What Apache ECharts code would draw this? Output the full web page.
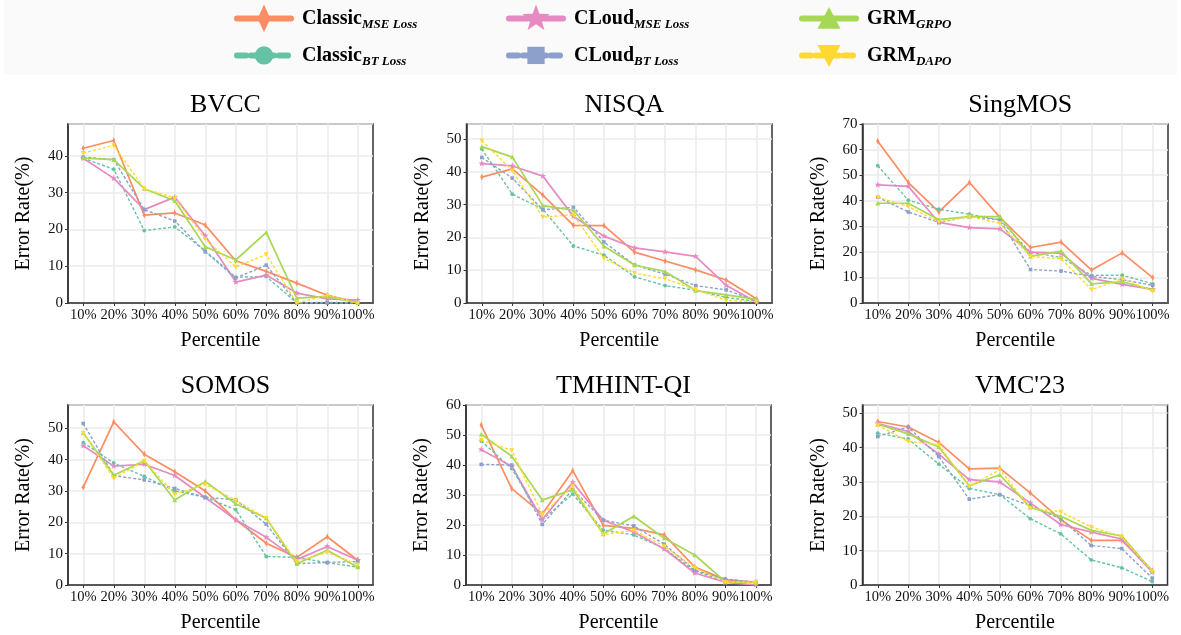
<!DOCTYPE html>
<html><head><meta charset="utf-8">
<script src="https://cdn.jsdelivr.net/npm/echarts@6/dist/echarts.min.js"></script>
<style>html,body{margin:0;padding:0;background:#fff}#c{width:1181px;height:635px}</style>
</head><body><div id="c"></div>
<script>
const categories = ['10%','20%','30%','40%','50%','60%','70%','80%','90%','100%'];
const panelTitles = ['BVCC','NISQA','SingMOS','SOMOS','TMHINT-QI',"VMC'23"];
const seriesKeys = ['Classic MSE','Classic BT','CLoud MSE','CLoud BT','GRM GRPO','GRM DAPO'];
const legendMain = ['Classic','Classic','CLoud','CLoud','GRM','GRM'];
const legendSub = ['MSE Loss','BT Loss','MSE Loss','BT Loss','GRPO','DAPO'];

// BVCC
const bvccClassicMse = [42.1,44.2,23.9,24.5,21.2,11.5,8.6,5.4,2.1,0.2];
const bvccClassicBt  = [39.4,36.4,19.7,20.7,14.2,7.0,7.2,0.0,0.2,0.0];
const bvccCloudMse   = [39.4,33.9,25.4,28.8,18.3,5.7,7.6,2.7,1.1,0.8];
const bvccCloudBt    = [39.7,39.0,25.4,22.3,13.9,6.8,10.3,0.0,0.0,0.0];
const bvccGrmGrpo    = [39.4,39.0,31.1,27.8,15.3,11.7,19.2,1.3,1.8,0.0];
const bvccGrmDapo    = [40.8,42.9,31.1,28.6,17.4,9.8,13.2,0.0,2.1,0.0];
// NISQA
const nisqaClassicMse = [38.4,40.9,32.9,23.7,23.6,15.5,12.8,10.1,7.0,1.2];
const nisqaClassicBt  = [47.0,33.2,28.6,17.4,14.6,8.0,5.3,3.9,1.7,0.5];
const nisqaCloudMse   = [42.5,41.8,38.7,26.4,20.4,16.8,15.6,14.2,5.4,0.2];
const nisqaCloudBt    = [44.4,38.1,28.4,29.2,18.6,11.6,8.8,5.3,4.0,0.6];
const nisqaGrmGrpo    = [47.7,44.5,29.7,28.3,17.3,11.6,9.6,3.8,2.5,1.1];
const nisqaGrmDapo    = [49.5,40.4,26.2,26.9,13.6,9.1,7.4,4.1,0.8,0.4];
// SingMOS
const singClassicMse = [63.3,47.1,35.6,47.1,33.5,21.7,23.8,12.9,19.6,9.9];
const singClassicBt  = [53.7,40.2,36.7,34.7,32.5,19.8,17.8,10.8,10.9,7.5];
const singCloudMse   = [46.2,45.6,31.5,29.5,29.0,19.9,19.5,9.6,7.3,5.3];
const singCloudBt    = [41.4,35.6,31.5,33.8,32.5,13.1,12.5,10.4,9.1,6.9];
const singGrmGrpo    = [39.0,39.0,32.6,33.8,33.8,18.2,20.3,7.5,8.3,5.2];
const singGrmDapo    = [41.4,37.7,31.7,33.8,31.2,18.2,17.3,5.2,9.4,4.6];
// SOMOS
const somosClassicMse = [31.2,52.0,41.7,36.1,30.0,20.8,13.3,8.8,15.4,7.9];
const somosClassicBt  = [45.4,38.9,34.6,30.0,28.0,24.0,9.1,8.8,7.1,5.7];
const somosCloudMse   = [44.4,37.9,38.5,34.9,27.9,20.8,15.2,8.1,12.3,7.9];
const somosCloudBt    = [51.5,34.9,33.5,30.8,27.9,27.2,19.4,6.8,7.2,7.5];
const somosGrmGrpo    = [48.5,35.0,39.6,27.1,33.0,25.9,21.3,6.8,11.1,5.7];
const somosGrmDapo    = [48.5,34.0,39.6,28.9,32.1,27.0,21.3,7.5,10.4,6.5];
// TMHINT-QI
const tmhClassicMse = [53.3,32.1,23.7,38.1,19.9,18.9,16.7,6.0,1.8,1.0];
const tmhClassicBt  = [48.0,38.8,21.8,30.3,18.3,16.7,12.2,4.7,1.2,0.9];
const tmhCloudMse   = [45.1,39.6,21.8,34.2,21.6,17.7,12.0,4.0,0.9,0.0];
const tmhCloudBt    = [40.2,40.0,20.2,31.8,21.6,19.7,13.6,4.9,2.0,0.9];
const tmhGrmGrpo    = [50.2,42.9,28.3,31.8,17.0,22.9,15.6,10.0,1.1,0.8];
const tmhGrmDapo    = [48.3,44.9,23.5,33.0,16.8,18.2,12.9,5.8,0.9,0.9];
// VMC'23
const vmcClassicMse = [47.6,46.0,41.5,33.8,34.0,26.8,19.0,13.0,13.0,4.2];
const vmcClassicBt  = [44.2,42.5,35.2,28.1,26.3,19.3,14.9,7.3,5.0,1.0];
const vmcCloudMse   = [47.0,44.7,38.1,30.7,30.0,23.9,17.6,15.4,13.4,3.7];
const vmcCloudBt    = [43.2,46.0,37.4,25.0,26.3,23.1,19.3,11.5,10.6,2.0];
const vmcGrmGrpo    = [46.8,44.0,40.2,28.9,32.1,22.6,20.0,15.9,14.3,4.0];
const vmcGrmDapo    = [46.5,41.8,40.8,28.7,33.6,22.4,21.3,16.9,14.0,4.0];

const panelData = [
  [bvccClassicMse,bvccClassicBt,bvccCloudMse,bvccCloudBt,bvccGrmGrpo,bvccGrmDapo],
  [nisqaClassicMse,nisqaClassicBt,nisqaCloudMse,nisqaCloudBt,nisqaGrmGrpo,nisqaGrmDapo],
  [singClassicMse,singClassicBt,singCloudMse,singCloudBt,singGrmGrpo,singGrmDapo],
  [somosClassicMse,somosClassicBt,somosCloudMse,somosCloudBt,somosGrmGrpo,somosGrmDapo],
  [tmhClassicMse,tmhClassicBt,tmhCloudMse,tmhCloudBt,tmhGrmGrpo,tmhGrmDapo],
  [vmcClassicMse,vmcClassicBt,vmcCloudMse,vmcCloudBt,vmcGrmGrpo,vmcGrmDapo]
];
const yMax = [48.7,54.6,70,57.4,60,52.4];

const FONT = '"Liberation Serif","Times New Roman",serif';
const colors = ['#fc8d62','#66c2a5','#e78ac3','#8da0cb','#a6d854','#ffd92f'];
const F = 'M0 0 M100 100 ';
const symbols = [
  'path://' + F + 'M50 2 L72 50 L50 98 L28 50 Z',
  'path://' + F + 'M50 18 A32 32 0 1 1 50 82 A32 32 0 1 1 50 18 Z',
  'path://' + F + 'M50 2 L61.8 33.8 L97.6 34.5 L69 56.2 L79.4 90.5 L50 70 L20.6 90.5 L31 56.2 L2.4 34.5 L38.2 33.8 Z',
  'path://' + F + 'M20 20 L80 20 L80 80 L20 80 Z',
  'path://' + F + 'M50 10 L90 86 L10 86 Z',
  'path://' + F + 'M50 90 L90 14 L10 14 Z'
];
const symSizes = [7,6,7,6,6,6];
const dashed = [false,true,false,true,false,true];

const gridPos = [
  {left:68, top:124, width:305, height:179},
  {left:466.5, top:124, width:305.5, height:179},
  {left:862.5, top:124, width:305.5, height:179},
  {left:68, top:405, width:305, height:180},
  {left:466, top:405, width:305, height:180},
  {left:862.5, top:405, width:305, height:180}
];

const grids = [], xAxes = [], yAxes = [], series = [], titles = [];
gridPos.forEach((g, p) => {
  grids.push(Object.assign({show:true, borderColor:'#333', borderWidth:1.5, backgroundColor:'#fff'}, g));
  titles.push({text: panelTitles[p], left: g.left + g.width/2, top: g.top - 37, textAlign:'center',
    textStyle:{fontFamily:FONT, fontSize:26, fontWeight:'normal', color:'#000'}});
  xAxes.push({type:'category', gridIndex:p, data:categories, boundaryGap:true,
    name:'Percentile', nameLocation:'middle', nameGap:28,
    nameTextStyle:{fontFamily:FONT, fontSize:20, color:'#000'},
    axisLine:{show:true, lineStyle:{color:'#333', width:1.5}},
    axisTick:{show:true, alignWithLabel:true, length:3, lineStyle:{color:'#333'}},
    axisLabel:{interval:0, margin:5, fontFamily:FONT, fontSize:14.5, color:'#111'},
    splitLine:{show:true, alignWithLabel:true, lineStyle:{color:'#ebebeb', width:1.6}}});
  const mx = yMax[p];
  yAxes.push({type:'value', gridIndex:p, min:0, max:mx, interval:10,
    name:'Error Rate(%)', nameLocation:'middle', nameGap:34,
    nameTextStyle:{fontFamily:FONT, fontSize:20, color:'#000'},
    axisLine:{show:true, lineStyle:{color:'#333', width:1.5}},
    axisTick:{show:true, length:3, lineStyle:{color:'#333'}},
    axisLabel:{margin:5, fontFamily:FONT, fontSize:15, color:'#111', showMaxLabel: (mx % 10 === 0)},
    splitLine:{show:true, lineStyle:{color:'#ebebeb', width:1.6}}});
  panelData[p].forEach((arr, s) => {
    series.push({type:'line', name:seriesKeys[s], xAxisIndex:p, yAxisIndex:p, data:arr,
      symbol:symbols[s], symbolSize:symSizes[s], showAllSymbol:true,
      itemStyle:{color:colors[s], borderWidth:0},
      lineStyle:{color:colors[s], width: dashed[s] ? 1.4 : 1.7, type: dashed[s] ? [3,2] : 'solid'},
      emphasis:{disabled:true}, animation:false, z: 2 + s});
  });
});

const legendPos = [
  {left:234, top:4}, {left:234, top:41},
  {left:506, top:4}, {left:506, top:41},
  {left:799, top:4}, {left:799, top:41}
];
const legends = seriesKeys.map((k, s) => ({
  data:[k], left:legendPos[s].left, top:legendPos[s].top, padding:0,
  itemWidth:54, itemHeight:36, selectedMode:false,
  lineStyle:{width:6, type: dashed[s] ? [9,5] : 'solid', cap:'round'},
  itemStyle:{borderWidth:0},
  formatter: () => '{m|' + legendMain[s] + '}{s|' + legendSub[s] + '}',
  textStyle:{rich:{
    m:{fontFamily:FONT, fontWeight:'bold', fontSize:20, color:'#000', lineHeight:26, padding:[0,0,0,6]},
    s:{fontFamily:FONT, fontWeight:'bold', fontStyle:'italic', fontSize:13, color:'#000', lineHeight:13, verticalAlign:'bottom'}
  }}
}));

const chart = echarts.init(document.getElementById('c'), null, {renderer:'canvas'});
chart.setOption({
  backgroundColor:'#fff',
  animation:false,
  graphic:[{type:'rect', shape:{x:4, y:0, width:1173, height:75}, style:{fill:'#fafafa'}, z:-10, silent:true}],
  title:titles,
  legend:legends,
  grid:grids,
  xAxis:xAxes,
  yAxis:yAxes,
  series:series
});
</script></body></html>
